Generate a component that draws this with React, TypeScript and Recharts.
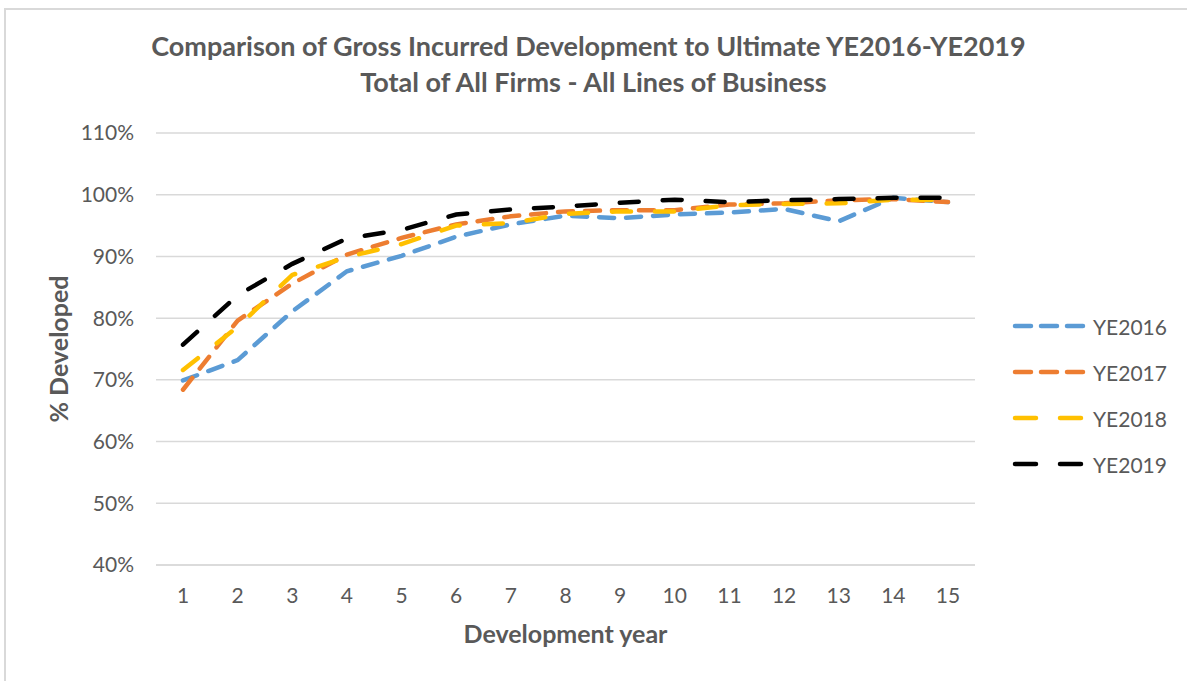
import React from "react";
import { LineChart, Line, XAxis, YAxis, CartesianGrid } from "recharts";

const years = ["1", "2", "3", "4", "5", "6", "7", "8", "9", "10", "11", "12", "13", "14", "15"];

const ye2016 = [0.699, 0.732, 0.811, 0.876, 0.901, 0.932, 0.952, 0.966, 0.962, 0.968, 0.971, 0.977, 0.957, 0.995, 0.988];
const ye2017 = [0.684, 0.796, 0.856, 0.903, 0.93, 0.952, 0.965, 0.973, 0.975, 0.975, 0.984, 0.986, 0.991, 0.993, 0.988];
const ye2018 = [0.716, 0.786, 0.87, 0.899, 0.92, 0.95, 0.954, 0.969, 0.973, 0.973, 0.983, 0.985, 0.986, 0.992, 0.991];
const ye2019 = [0.757, 0.837, 0.888, 0.929, 0.943, 0.968, 0.976, 0.981, 0.987, 0.992, 0.988, 0.991, 0.993, 0.995, 0.995];

const yTicks = [0.4, 0.5, 0.6, 0.7, 0.8, 0.9, 1.0, 1.1];

const series = [
  { key: "YE2016", values: ye2016, color: "#5B9BD5", dash: "15 12", legendDash: "16 10" },
  { key: "YE2017", values: ye2017, color: "#ED7D31", dash: "15 12", legendDash: "16 10" },
  { key: "YE2018", values: ye2018, color: "#FFC000", dash: "19 24", legendDash: "21 24" },
  { key: "YE2019", values: ye2019, color: "#000000", dash: "19 24", legendDash: "21 24" },
];

const data = years.map((year, i) => {
  const row: Record<string, string | number> = { year };
  series.forEach((s) => {
    row[s.key] = s.values[i];
  });
  return row;
});

const font = "Lato, 'Open Sans', sans-serif";
const grey = "#595959";

// plot area edges
const plotLeft = 156;
const plotRight = 975;

export default function App() {
  return (
    <div style={{ position: "absolute", left: 0, top: 0, width: 1187, height: 681, background: "#fff", fontFamily: font, overflow: "hidden" }}>
      <div
        style={{
          position: "absolute",
          left: 4,
          top: 8,
          width: 1200,
          height: 700,
          borderLeft: "2px solid #d9d9d9",
          borderTop: "2px solid #d9d9d9",
        }}
      />
      <div
        style={{
          position: "absolute",
          left: 0,
          width: 1187,
          top: 28,
          textAlign: "center",
          color: grey,
          fontWeight: 700,
          fontSize: 27,
          lineHeight: "36px",
        }}
      >
        <div style={{ marginLeft: -10 }}>Comparison of Gross Incurred Development to Ultimate YE2016-YE2019</div>
        <div>Total of All Firms - All Lines of Business</div>
      </div>

      <div style={{ position: "absolute", left: 0, top: 0 }}>
        <LineChart width={1187} height={681} data={data} margin={{ top: 133, right: 1187 - plotRight, bottom: 86, left: plotLeft - 70 }}>
          <CartesianGrid vertical={false} stroke="#d9d9d9" strokeWidth={1.5} />
          <XAxis
            dataKey="year"
            height={30}
            padding={{ left: 27, right: 27 }}
            axisLine={{ stroke: "#d9d9d9", strokeWidth: 1.5 }}
            tickLine={false}
            tickSize={0}
            tickMargin={23}
            tick={{ fill: grey, fontSize: 21, fontFamily: font }}
            interval={0}
          />
          <YAxis
            width={70}
            domain={[0.4, 1.1]}
            ticks={yTicks}
            axisLine={false}
            tickLine={false}
            tickSize={0}
            tickMargin={22}
            tickFormatter={(v: number) => `${Math.round(v * 100)}%`}
            tick={{ fill: grey, fontSize: 21, fontFamily: font }}
          />
          {series.map((s) => (
            <Line
              key={s.key}
              dataKey={s.key}
              type="linear"
              stroke={s.color}
              strokeWidth={4.5}
              strokeDasharray={s.dash}
              strokeLinecap="round"
              dot={false}
              activeDot={false}
              isAnimationActive={false}
            />
          ))}
        </LineChart>
      </div>

      <div
        style={{
          position: "absolute",
          left: plotLeft,
          width: plotRight - plotLeft,
          top: 618,
          textAlign: "center",
          color: grey,
          fontWeight: 700,
          fontSize: 25,
        }}
      >
        Development year
      </div>

      <div
        style={{
          position: "absolute",
          left: 58,
          top: 349,
          transform: "translate(-50%, -50%) rotate(-90deg)",
          whiteSpace: "nowrap",
          color: grey,
          fontWeight: 700,
          fontSize: 25,
        }}
      >
        % Developed
      </div>

      <div style={{ position: "absolute", left: 1012, top: 303 }}>
        {series.map((s) => (
          <div key={s.key} style={{ display: "flex", alignItems: "center", height: 46 }}>
            <svg width={76} height={10}>
              <line
                x1={3}
                y1={5}
                x2={73}
                y2={5}
                stroke={s.color}
                strokeWidth={4.5}
                strokeLinecap="round"
                strokeDasharray={s.legendDash}
              />
            </svg>
            <span style={{ marginLeft: 5, color: grey, fontSize: 21 }}>{s.key}</span>
          </div>
        ))}
      </div>
    </div>
  );
}
